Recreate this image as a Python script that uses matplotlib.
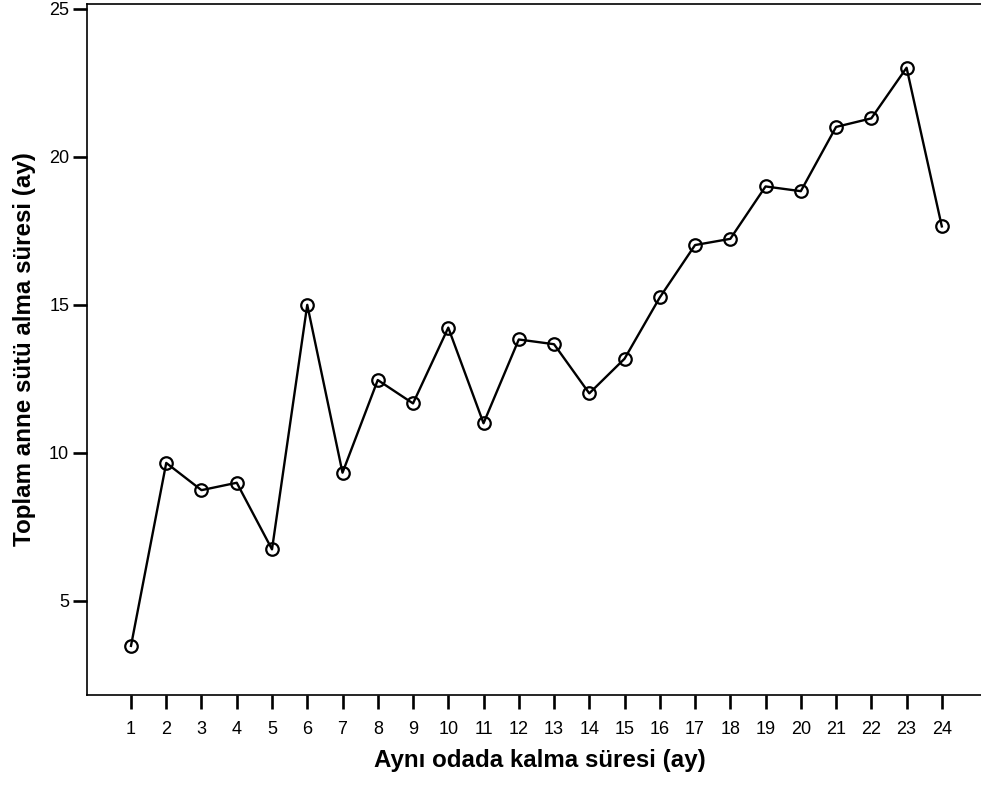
import matplotlib
matplotlib.use("Agg")
import matplotlib.pyplot as plt

plt.rcParams["font.family"] = ["Liberation Sans", "DejaVu Sans"]

# months in the same room vs total breastfeeding duration
months = list(range(1, 25))
breastfeeding = [3.47, 9.65, 8.73, 8.98, 6.73, 14.99, 9.32, 12.45, 11.66, 14.22,
                 10.99, 13.82, 13.66, 12.0, 13.17, 15.24, 17.01, 17.22, 18.99, 18.83,
                 21.0, 21.29, 23.0, 17.64]
y_ticks = [5, 10, 15, 20, 25]

fig = plt.figure(figsize=(9.81, 7.86), dpi=100)
ax = fig.add_axes([86.5 / 981, 91 / 786, 907.5 / 981, 691.5 / 786])

ax.plot(months, breastfeeding, color="black", linewidth=1.7,
        marker="o", markersize=9, markerfacecolor="none",
        markeredgecolor="black", markeredgewidth=1.6)

ax.set_xlim(-0.262, 25.48)
ax.set_ylim(1.81, 25.17)
ax.set_xticks(months)
ax.set_yticks(y_ticks)

ax.spines["right"].set_visible(False)
for side in ["left", "top", "bottom"]:
    ax.spines[side].set_linewidth(1.2)

ax.tick_params(axis="both", direction="out", length=10, width=1.9, labelsize=13)
ax.tick_params(axis="x", pad=8.5)
ax.tick_params(axis="y", pad=2.5)

ax.set_xlabel("Aynı odada kalma süresi (ay)", fontsize=17.4, fontweight="bold")
ax.set_ylabel("Toplam anne sütü alma süresi (ay)", fontsize=17.4, fontweight="bold")
ax.xaxis.set_label_coords(0.5, -0.078)
ax.yaxis.set_label_coords(-0.056, 0.5)

fig.savefig("out.png", dpi=100)
plt.close(fig)
